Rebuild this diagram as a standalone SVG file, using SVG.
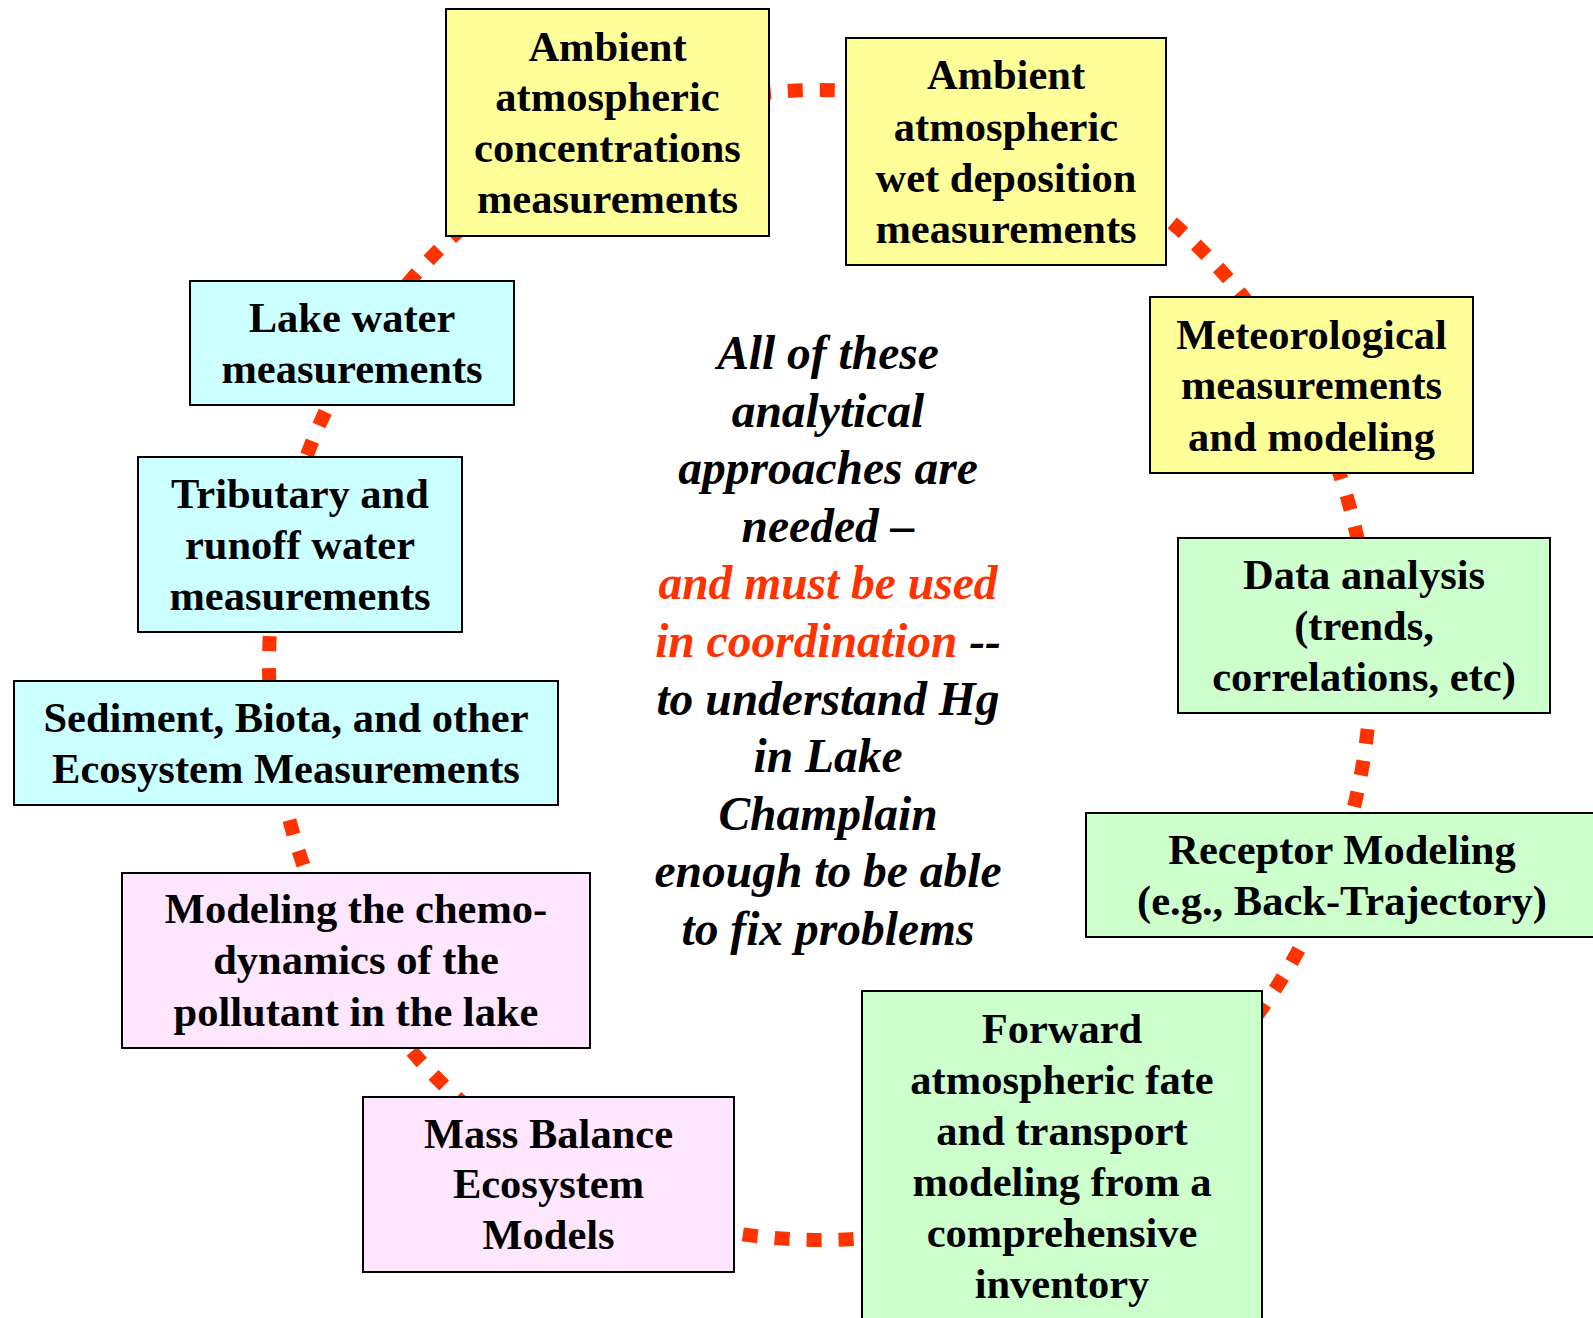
<svg xmlns="http://www.w3.org/2000/svg" width="1593" height="1318" viewBox="0 0 1593 1318">
<style>
.box{stroke:#000;stroke-width:2}
.y{fill:#FFFF99}.c{fill:#CCFFFF}.g{fill:#CCFFCC}.p{fill:#FFE6FF}
.t{font-family:"Liberation Serif","Times New Roman",serif;font-weight:bold;font-size:42.5px;fill:#000;text-anchor:middle}
.m{font-family:"Liberation Serif","Times New Roman",serif;font-weight:bold;font-style:italic;font-size:47.5px;fill:#000;text-anchor:middle}
.r{fill:#FF3300}
.conn{fill:none;stroke:#FF3300;stroke-width:14;stroke-dasharray:15 17}
</style>
<rect width="1593" height="1318" fill="#fff"/>
<g id="connectors">
<path class="conn" d="M724.3,98.8 A551,575 0 0 1 915.7,98.8"/>
<path class="conn" d="M1008.4,124.7 A551,575 0 0 1 1297.2,377.5"/>
<path class="conn" d="M1297.2,377.5 A551,575 0 0 1 1371,665"/>
<path class="conn" d="M1371,665 A551,575 0 0 1 1337.8,861.7"/>
<path class="conn" d="M1337.8,861.7 A551,575 0 0 1 1095.5,1163"/>
<path class="conn" d="M1095.5,1163 A551,575 0 0 1 631.6,1205.3"/>
<path class="conn" d="M631.6,1205.3 A551,575 0 0 1 342.8,952.5"/>
<path class="conn" d="M342.8,952.5 A551,575 0 0 1 271.1,715.1"/>
<path class="conn" d="M271.1,715.1 A551,575 0 0 1 287.8,516.2"/>
<path class="conn" d="M287.8,516.2 A551,575 0 0 1 368.6,335.2"/>
<path class="conn" d="M368.6,335.2 A551,575 0 0 1 724.3,98.8"/>
</g>
<g id="ambient-concentrations">
<rect class="box y" x="446" y="9" width="323" height="227"/>
<text class="t" x="607.5" y="61">Ambient</text>
<text class="t" x="607.5" y="111">atmospheric</text>
<text class="t" x="607.5" y="162">concentrations</text>
<text class="t" x="607.5" y="213">measurements</text>
</g>
<g id="ambient-wet-deposition">
<rect class="box y" x="846" y="38" width="320" height="227"/>
<text class="t" x="1006" y="89">Ambient</text>
<text class="t" x="1006" y="141">atmospheric</text>
<text class="t" x="1006" y="192">wet deposition</text>
<text class="t" x="1006" y="243">measurements</text>
</g>
<g id="meteorological">
<rect class="box y" x="1150" y="297" width="323" height="176"/>
<text class="t" x="1311.5" y="349">Meteorological</text>
<text class="t" x="1311.5" y="399">measurements</text>
<text class="t" x="1311.5" y="451">and modeling</text>
</g>
<g id="data-analysis">
<rect class="box g" x="1178" y="538" width="372" height="175"/>
<text class="t" x="1364" y="589">Data analysis</text>
<text class="t" x="1364" y="640">(trends,</text>
<text class="t" x="1364" y="691">correlations, etc)</text>
</g>
<g id="receptor-modeling">
<rect class="box g" x="1086" y="813" width="512" height="124"/>
<text class="t" x="1342" y="864">Receptor Modeling</text>
<text class="t" x="1342" y="915">(e.g., Back-Trajectory)</text>
</g>
<g id="forward-modeling">
<rect class="box g" x="862" y="991" width="400" height="330"/>
<text class="t" x="1062" y="1043">Forward</text>
<text class="t" x="1062" y="1094">atmospheric fate</text>
<text class="t" x="1062" y="1145">and transport</text>
<text class="t" x="1062" y="1196">modeling from a</text>
<text class="t" x="1062" y="1247">comprehensive</text>
<text class="t" x="1062" y="1298">inventory</text>
</g>
<g id="mass-balance">
<rect class="box p" x="363" y="1097" width="371" height="175"/>
<text class="t" x="548.5" y="1148">Mass Balance</text>
<text class="t" x="548.5" y="1198">Ecosystem</text>
<text class="t" x="548.5" y="1249">Models</text>
</g>
<g id="chemo-dynamics">
<rect class="box p" x="122" y="873" width="468" height="175"/>
<text class="t" x="356" y="923">Modeling the chemo-</text>
<text class="t" x="356" y="974">dynamics of the</text>
<text class="t" x="356" y="1026">pollutant in the lake</text>
</g>
<g id="sediment-biota">
<rect class="box c" x="14" y="681" width="544" height="124"/>
<text class="t" x="286" y="732">Sediment, Biota, and other</text>
<text class="t" x="286" y="783">Ecosystem Measurements</text>
</g>
<g id="tributary">
<rect class="box c" x="138" y="457" width="324" height="175"/>
<text class="t" x="300" y="508">Tributary and</text>
<text class="t" x="300" y="559">runoff water</text>
<text class="t" x="300" y="610">measurements</text>
</g>
<g id="lake-water">
<rect class="box c" x="190" y="281" width="324" height="124"/>
<text class="t" x="352" y="332">Lake water</text>
<text class="t" x="352" y="383">measurements</text>
</g>
<g id="center-note">
<text class="m" x="828" y="369">All of these</text>
<text class="m" x="828" y="426.6">analytical</text>
<text class="m" x="828" y="484.2">approaches are</text>
<text class="m" x="828" y="541.8">needed –</text>
<text class="m r" x="828" y="599.4">and must be used</text>
<text class="m" x="828" y="657"><tspan class="r">in coordination</tspan> --</text>
<text class="m" x="828" y="714.6">to understand Hg</text>
<text class="m" x="828" y="772.2">in Lake</text>
<text class="m" x="828" y="829.8">Champlain</text>
<text class="m" x="828" y="887.4">enough to be able</text>
<text class="m" x="828" y="945">to fix problems</text>
</g>
</svg>
